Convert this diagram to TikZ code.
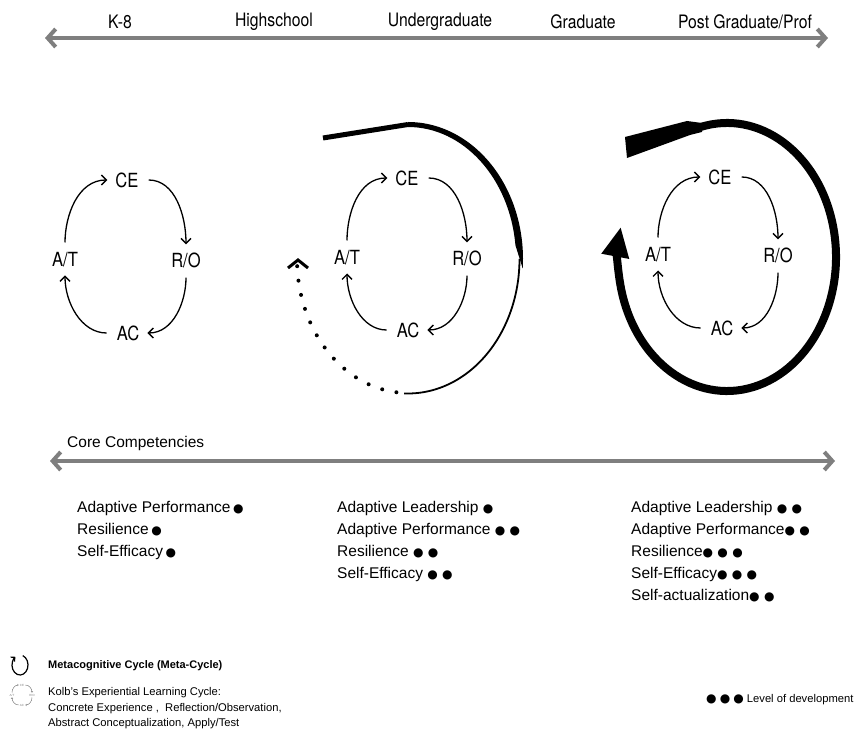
\documentclass[tikz,border=0pt]{standalone}
\usepackage{fontspec}
\setmainfont{Liberation Sans}
\newfontfamily\narrowfont[FakeStretch=0.85]{TeX Gyre Heros}
\newfontfamily\symfont{DejaVu Sans}
\usetikzlibrary{arrows.meta, calc}
\definecolor{axisgray}{HTML}{7F7F7F}
\newcommand{\lvl}{{\symfont\fontsize{12}{12}\selectfont ●}}

\begin{document}
\begin{tikzpicture}[
    x=1pt, y=1pt, % one unit is one pixel of the sketch
    stage/.style={font=\narrowfont\fontsize{18.5}{20}\selectfont},
    kolb/.style={font=\narrowfont\fontsize{19.5}{20}\selectfont, inner sep=6pt},
    cyc/.style={-{Straight Barb[length=5pt,width=10pt]}, line width=1.3pt, shorten <=4pt, shorten >=2pt},
    timeline/.style={{Straight Barb[length=8pt,width=18pt]}-{Straight Barb[length=8pt,width=18pt]}, draw=axisgray, line width=4pt},
    comp/.style={anchor=north west, inner sep=0pt, align=left, font=\fontsize{15.5}{22}\selectfont},
    legendtext/.style={inner sep=0pt, align=left, font=\fontsize{11.2}{15.5}\selectfont},
    mini/.style={font=\fontsize{3}{3}\selectfont, text=gray, inner sep=1pt},
    minicyc/.style={-{Straight Barb[length=1pt,width=2pt]}, draw=gray, line width=0.5pt}
]
\useasboundingbox (0,0) rectangle (857,734);

    % stages along the top
    \coordinate (t0) at (45,696);
    \coordinate (t1) at (828,696);
    \draw[timeline] (t0) -- (t1);
    \node[stage] (k8) at (120,712) {K-8};
    \node[stage] (hs) at (274,712) {Highschool};
    \node[stage] (ug) at (440,712) {Undergraduate};
    \node[stage] (gr) at (583,712) {Graduate};
    \node[stage] (pg) at (745,712) {Post Graduate/Prof};

    % Kolb cycle, K-8
    \node[kolb] (ce1) at (127,554) {CE};
    \node[kolb] (ro1) at (186,474) {R/O};
    \node[kolb] (ac1) at (128,401) {AC};
    \node[kolb] (at1) at (65,474) {A/T};
    \draw[cyc] (at1) to[out=90,in=180] (ce1);
    \draw[cyc] (ce1) to[out=0,in=90] (ro1);
    \draw[cyc] (ro1) to[out=-90,in=0] (ac1);
    \draw[cyc] (ac1) to[out=180,in=-90] (at1);

    % Kolb cycle, undergraduate
    \node[kolb] (ce2) at (407,556) {CE};
    \node[kolb] (ro2) at (467,476) {R/O};
    \node[kolb] (ac2) at (408,404) {AC};
    \node[kolb] (at2) at (347,476) {A/T};
    \draw[cyc] (at2) to[out=90,in=180] (ce2);
    \draw[cyc] (ce2) to[out=0,in=90] (ro2);
    \draw[cyc] (ro2) to[out=-90,in=0] (ac2);
    \draw[cyc] (ac2) to[out=180,in=-90] (at2);

    % Kolb cycle, post graduate
    \node[kolb] (ce3) at (720,557) {CE};
    \node[kolb] (ro3) at (778,479) {R/O};
    \node[kolb] (ac3) at (722,406) {AC};
    \node[kolb] (at3) at (658,479) {A/T};
    \draw[cyc] (at3) to[out=90,in=180] (ce3);
    \draw[cyc] (ce3) to[out=0,in=90] (ro3);
    \draw[cyc] (ro3) to[out=-90,in=0] (ac3);
    \draw[cyc] (ac3) to[out=180,in=-90] (at3);

    % meta-cycle, half way round
    \coordinate (m2) at (408,475);
    \coordinate (m2tail) at (323,596);
    \draw[line width=5pt] (m2tail) -- ($(m2)+(0,134.5)$);
    \fill (m2) ++(90:115 and 137) arc[start angle=90, end angle=-4, x radius=115, y radius=137]
        -- ($(m2)+(6:108 and 132)$) arc[start angle=6, end angle=90, x radius=108, y radius=132] -- cycle;
    \draw[line width=1.8pt] ($(m2)+(0:111.5 and 134.5)$) arc[start angle=0, end angle=-92, x radius=111.5, y radius=134.5];
    \draw[line width=4pt, line cap=round, dash pattern=on 0pt off 14.5pt]
        ($(m2)+(-96:111 and 134)$) arc[start angle=-96, end angle=-178, x radius=111, y radius=134];
    \draw[line width=3pt] (288,466) -- (298,474) -- (308,466);

    % meta-cycle, full loop
    \coordinate (m3) at (727,477);
    \fill (625,597) -- (687,613) -- (702,611) -- (702,602) -- (690,599) -- (627,576) -- cycle;
    \draw[line width=8pt, -{Triangle[length=30pt,width=26pt]}]
        ($(m3)+(104:109 and 134)$) arc[start angle=104, end angle=-193, x radius=109, y radius=134];

    % core competencies
    \coordinate (c0) at (50,273);
    \coordinate (c1) at (835,273);
    \draw[timeline] (c0) -- (c1);
    \node[anchor=west, inner sep=0pt, font=\fontsize{15.5}{18}\selectfont] (core) at (67,291) {Core Competencies};
    \node[comp] (cc1) at (77,233) {Adaptive Performance\,\lvl\\Resilience\,\lvl\\Self-Efficacy\,\lvl};
    \node[comp] (cc2) at (337,233) {Adaptive Leadership \lvl\\Adaptive Performance \lvl\ \lvl\\Resilience \lvl\ \lvl\\Self-Efficacy \lvl\ \lvl};
    \node[comp] (cc3) at (631,233) {Adaptive Leadership \lvl\ \lvl\\Adaptive Performance\lvl\ \lvl\\Resilience\lvl\ \lvl\ \lvl\\Self-Efficacy\lvl\ \lvl\ \lvl\\Self-actualization\lvl\ \lvl};

    % legend
    \coordinate (lc) at (20,69);
    \draw[line width=1.2pt, -{Straight Barb[length=3pt,width=6pt]}]
        ($(lc)+(70:8 and 10)$) arc[start angle=70, end angle=-235, x radius=8, y radius=10];
    \node[legendtext, anchor=west, font=\bfseries\fontsize{11}{13}\selectfont] (meta) at (48,68) {Metacognitive Cycle (Meta-Cycle)};

    \node[mini] (kce) at (22,49) {CE};
    \node[mini] (kro) at (32,39) {R/O};
    \node[mini] (kac) at (22,29) {AC};
    \node[mini] (kat) at (12,39) {A/T};
    \draw[minicyc] (kat) to[out=90,in=180] (kce);
    \draw[minicyc] (kce) to[out=0,in=90] (kro);
    \draw[minicyc] (kro) to[out=-90,in=0] (kac);
    \draw[minicyc] (kac) to[out=180,in=-90] (kat);
    \node[legendtext, anchor=west] (kolbtext) at (48,25.5) {Kolb’s Experiential Learning Cycle:\\Concrete Experience ,\ \ Reflection/Observation,\\Abstract Conceptualization, Apply/Test};

    \node[legendtext, anchor=west] (lev) at (706,34) {\lvl\ \lvl\ \lvl\ Level of development};
\end{tikzpicture}
\end{document}
